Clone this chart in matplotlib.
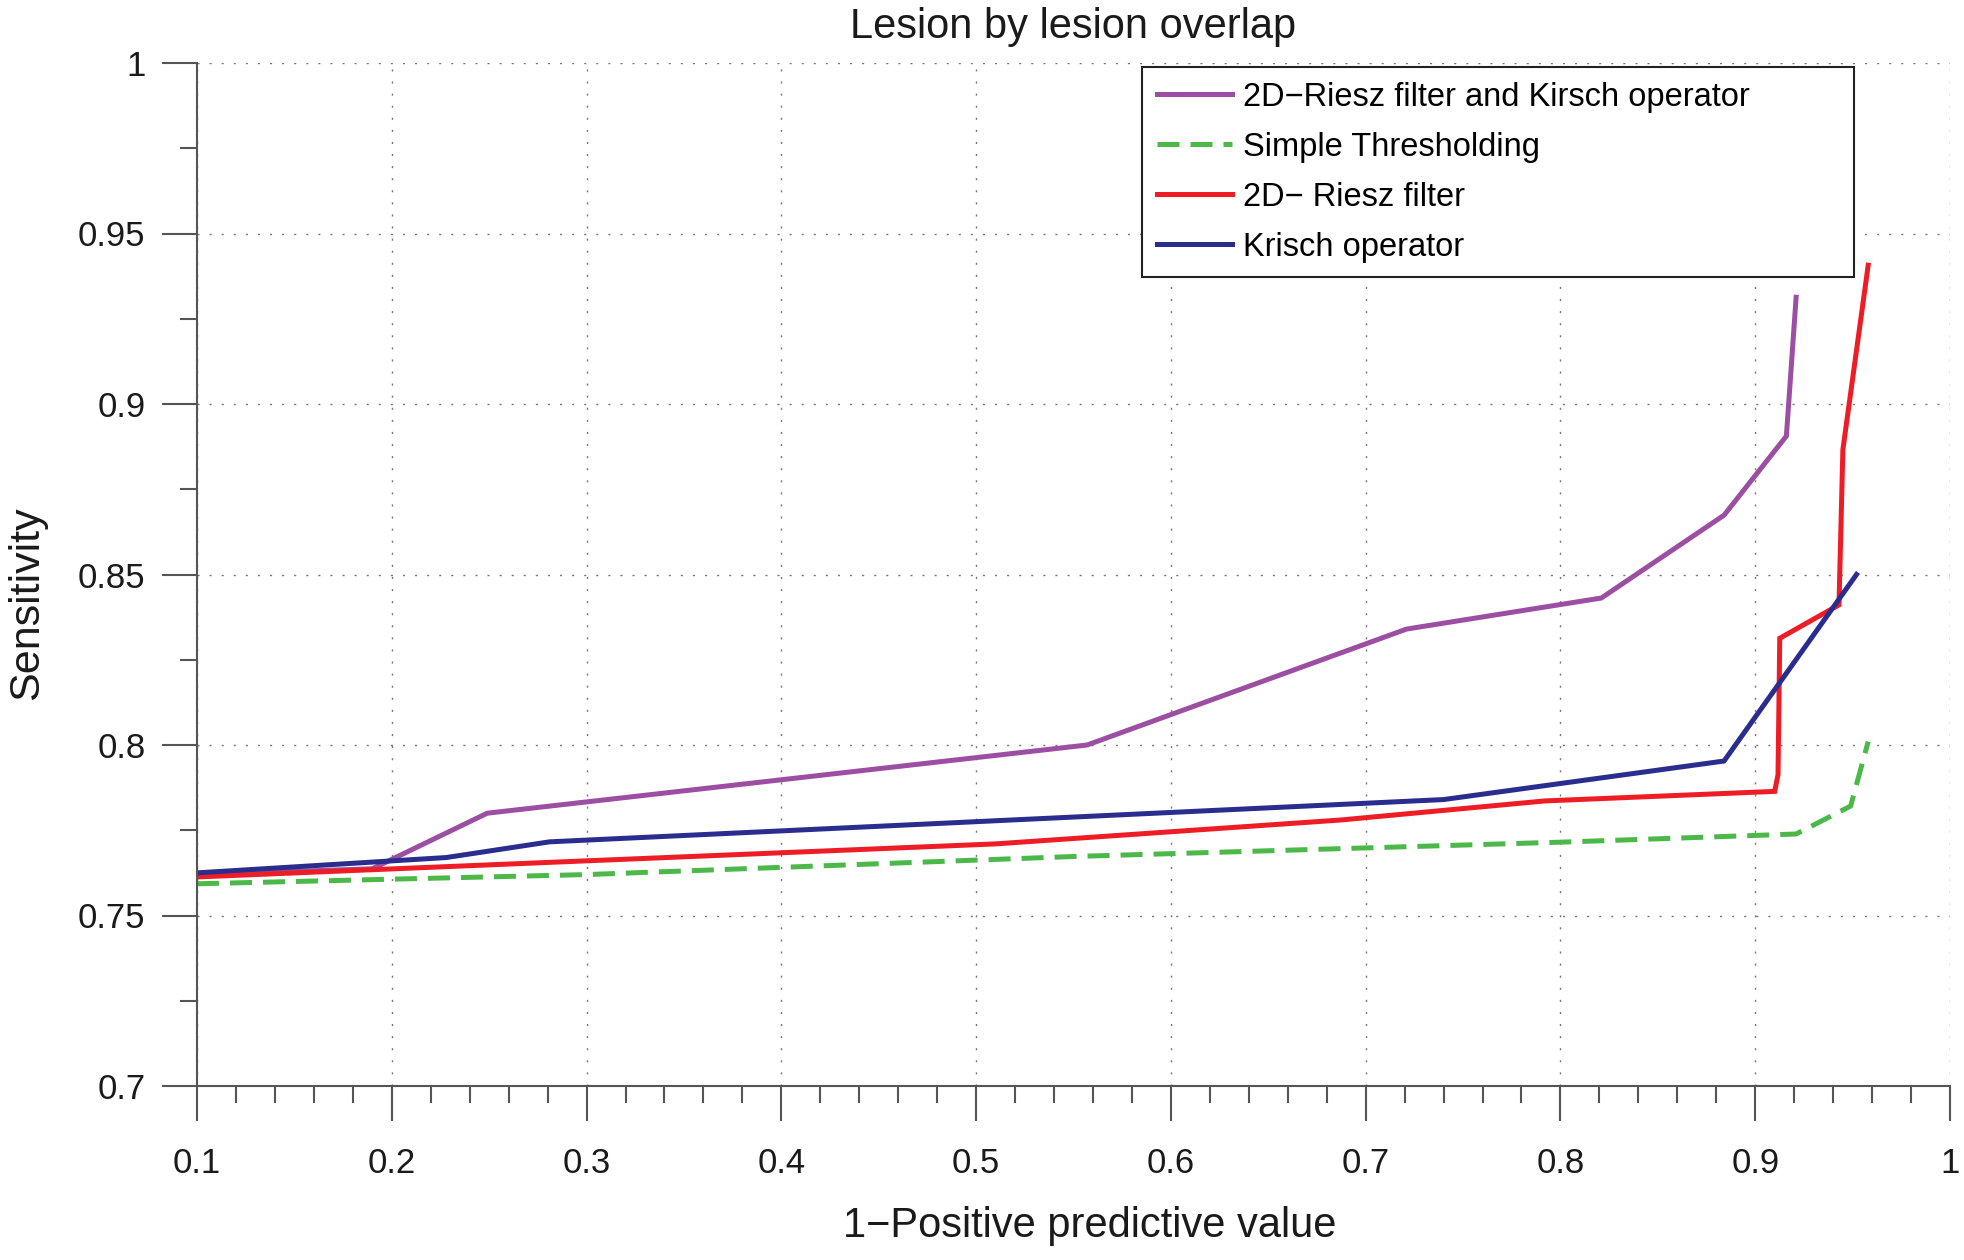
import matplotlib
matplotlib.use("Agg")
import matplotlib.pyplot as plt
from matplotlib.ticker import MultipleLocator, FixedLocator

plt.rcParams['font.family'] = ['Liberation Sans', 'DejaVu Sans']

# ---- data ----
rk_x = [0.10, 0.19, 0.249, 0.557, 0.721, 0.821, 0.884, 0.916, 0.921]
rk_y = [0.762, 0.7637, 0.780, 0.800, 0.834, 0.8431, 0.8674, 0.8906, 0.9313]

th_x = [0.10, 0.30, 0.55, 0.80, 0.921, 0.949, 0.958]
th_y = [0.7593, 0.762, 0.7673, 0.7715, 0.7739, 0.7821, 0.801]

rz_x = [0.10, 0.51, 0.687, 0.792, 0.910, 0.9117, 0.9126, 0.943, 0.945, 0.958]
rz_y = [0.7613, 0.771, 0.778, 0.7836, 0.7864, 0.7913, 0.8313, 0.8411, 0.8866, 0.9407]

kr_x = [0.10, 0.228, 0.281, 0.74, 0.884, 0.952]
kr_y = [0.7625, 0.767, 0.7716, 0.784, 0.7953, 0.850]

labels = ["2D\u2212Riesz filter and Kirsch operator", "Simple Thresholding",
          "2D\u2212 Riesz filter", "Krisch operator"]
xticks = [0.1, 0.2, 0.3, 0.4, 0.5, 0.6, 0.7, 0.8, 0.9, 1.0]
xticklabels = ["0.1", "0.2", "0.3", "0.4", "0.5", "0.6", "0.7", "0.8", "0.9", "1"]
yticks = [0.7, 0.75, 0.8, 0.85, 0.9, 0.95, 1.0]
yticklabels = ["0.7", "0.75", "0.8", "0.85", "0.9", "0.95", "1"]

fig = plt.figure(figsize=(19.64, 12.6), dpi=100)
ax = fig.add_axes([197/1964, 1 - 1086/1260, (1950-197)/1964, (1086-63)/1260])

lw = 3.6
ax.plot(rk_x, rk_y, color="#9c4ea2", lw=lw, label=labels[0], solid_joinstyle='miter')
ax.plot(th_x, th_y, color="#4cb849", lw=lw, ls=(0, (4.4, 2.2)), label=labels[1])
ax.plot(rz_x, rz_y, color="#ee1c25", lw=lw, label=labels[2], solid_joinstyle='miter')
ax.plot(kr_x, kr_y, color="#2a2c8e", lw=lw, label=labels[3], solid_joinstyle='miter')

ax.set_xlim(0.1, 1.0)
ax.set_ylim(0.7, 1.0)
ax.xaxis.set_major_locator(FixedLocator(xticks))
ax.set_xticklabels(xticklabels)
ax.yaxis.set_major_locator(FixedLocator(yticks))
ax.set_yticklabels(yticklabels)
ax.xaxis.set_minor_locator(MultipleLocator(0.02))
ax.yaxis.set_minor_locator(MultipleLocator(0.025))

for s in ["top", "right"]:
    ax.spines[s].set_visible(False)
for s in ["left", "bottom"]:
    ax.spines[s].set_color("#555555")
    ax.spines[s].set_linewidth(1.5)

ax.tick_params(which="major", direction="out", length=25, width=1.5, color="#555555",
               labelsize=25, labelcolor="#1a1a1a")
ax.tick_params(which="minor", direction="out", length=12, width=1.5, color="#555555")
ax.tick_params(axis="x", which="major", pad=19)
ax.tick_params(axis="y", which="major", pad=12)

ax.grid(True, which="major", color="#777777", lw=1.0, ls=(0, (1.5, 7.2)))
ax.set_axisbelow(True)

ax.set_title("Lesion by lesion overlap", fontsize=30, pad=18, color="#1a1a1a")
ax.set_xlabel("1\u2212Positive predictive value", fontsize=30, color="#1a1a1a")
ax.set_ylabel("Sensitivity", fontsize=31, color="#1a1a1a")
ax.xaxis.set_label_coords(0.509, -0.117)
ax.yaxis.set_label_coords(-0.0856, 0.472)

leg = ax.legend(loc="upper left", bbox_to_anchor=(0.539, 0.795, 0.406, 0.201),
                mode="expand", fontsize=23.5, frameon=True, fancybox=False,
                edgecolor="#222222", framealpha=1, borderpad=0.45, labelspacing=0.58,
                handlelength=2.3, handletextpad=0.35, borderaxespad=0)
leg.get_frame().set_linewidth(1.5)

fig.savefig("out.png", dpi=100)
